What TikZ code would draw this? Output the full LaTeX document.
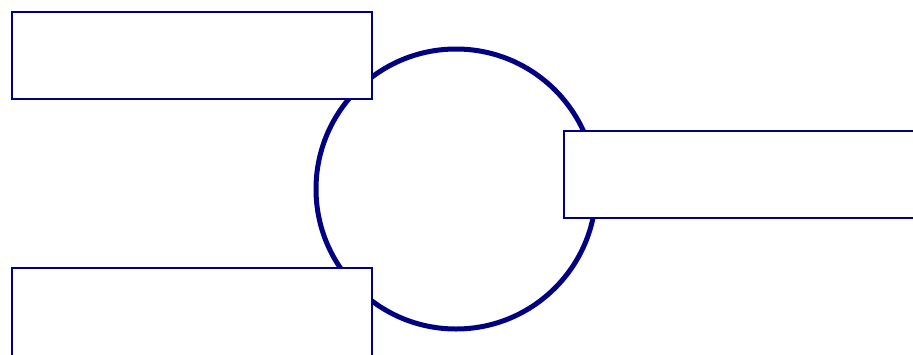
\documentclass[tikz,border=0pt]{standalone}
\definecolor{navy}{RGB}{0,0,128}
\begin{document}
\begin{tikzpicture}[x=1pt,y=-1pt,
  boxst/.style={draw=navy,fill=white,line width=2pt,rectangle,inner sep=0pt,minimum width=360pt,minimum height=87pt},
  ringst/.style={draw=navy,line width=5pt,circle,inner sep=0pt,minimum size=280pt}]
\useasboundingbox (0,0) rectangle (913,354);
\clip (0,0) rectangle (913,354);
\node[ringst] (ring) at (456,189) {};
\node[boxst] (tl) at (192,55.5) {};
\node[boxst,minimum height=110pt] (bl) at (192,323) {};
\node[boxst,minimum width=380pt] (rt) at (754,174.5) {};
\end{tikzpicture}
\end{document}
